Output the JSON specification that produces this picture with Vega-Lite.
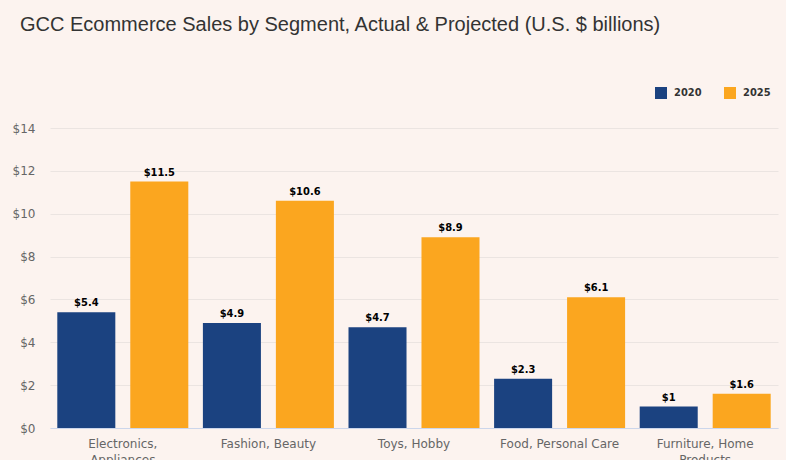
{
  "$schema": "https://vega.github.io/schema/vega-lite/v6.json",
  "width": 728,
  "height": 300,
  "autosize": {"type": "none"},
  "padding": {"left": 50, "top": 128, "right": 8, "bottom": 32},
  "background": "#fcf3ef",
  "title": {
    "text": "GCC Ecommerce Sales by Segment, Actual & Projected (U.S. $ billions)",
    "anchor": "start",
    "frame": "group",
    "dx": -30,
    "offset": 52,
    "font": "Liberation Sans",
    "fontSize": 20,
    "fontWeight": "normal",
    "color": "#333333"
  },
  "data": {
    "values": [
      {"category": "Electronics, Appliances", "year": "2020", "value": 5.4},
      {"category": "Electronics, Appliances", "year": "2025", "value": 11.5},
      {"category": "Fashion, Beauty", "year": "2020", "value": 4.9},
      {"category": "Fashion, Beauty", "year": "2025", "value": 10.6},
      {"category": "Toys, Hobby", "year": "2020", "value": 4.7},
      {"category": "Toys, Hobby", "year": "2025", "value": 8.9},
      {"category": "Food, Personal Care", "year": "2020", "value": 2.3},
      {"category": "Food, Personal Care", "year": "2025", "value": 6.1},
      {"category": "Furniture, Home Products", "year": "2020", "value": 1},
      {"category": "Furniture, Home Products", "year": "2025", "value": 1.6}
    ]
  },
  "encoding": {
    "x": {
      "field": "category",
      "type": "nominal",
      "sort": ["Electronics, Appliances", "Fashion, Beauty", "Toys, Hobby", "Food, Personal Care", "Furniture, Home Products"],
      "scale": {"paddingInner": 0, "paddingOuter": 0},
      "axis": {
        "title": null,
        "labelAngle": 0,
        "ticks": false,
        "domainColor": "#ccd6eb",
        "labelColor": "#666666",
        "labelFont": "DejaVu Sans",
        "labelFontSize": 12,
        "labelPadding": 10,
        "labelLineHeight": 16,
        "labelExpr": "datum.value == 'Electronics, Appliances' ? ['Electronics,', 'Appliances'] : datum.value == 'Furniture, Home Products' ? ['Furniture, Home', 'Products'] : datum.value"
      }
    },
    "xOffset": {
      "field": "year",
      "type": "nominal",
      "scale": {"paddingInner": 0.205, "paddingOuter": 0.1}
    },
    "y": {
      "field": "value",
      "type": "quantitative",
      "scale": {"domain": [0, 14]},
      "axis": {
        "title": null,
        "values": [0, 2, 4, 6, 8, 10, 12, 14],
        "format": "$~g",
        "domain": false,
        "ticks": false,
        "gridColor": "#ebe4e1",
        "labelColor": "#666666",
        "labelFont": "DejaVu Sans",
        "labelFontSize": 12,
        "labelPadding": 15
      }
    }
  },
  "layer": [
    {
      "mark": {"type": "bar"},
      "encoding": {
        "color": {
          "field": "year",
          "type": "nominal",
          "scale": {"domain": ["2020", "2025"], "range": ["#1b4280", "#fba61f"]},
          "legend": {
            "title": null,
            "orient": "none",
            "direction": "horizontal",
            "legendX": 605,
            "legendY": -41,
            "symbolType": "square",
            "symbolSize": 144,
            "symbolStrokeWidth": 0,
            "symbolOpacity": 1,
            "labelFont": "DejaVu Sans Condensed",
            "labelFontWeight": "bold",
            "labelFontSize": 11,
            "labelColor": "#333333",
            "labelOffset": 7,
            "columnPadding": 22
          }
        }
      }
    },
    {
      "mark": {
        "type": "text",
        "baseline": "bottom",
        "dy": -4,
        "font": "DejaVu Sans Condensed",
        "fontWeight": "bold",
        "fontSize": 11,
        "color": "#000000"
      },
      "encoding": {
        "text": {"field": "value", "type": "quantitative", "format": "$.3~g"}
      }
    }
  ],
  "config": {
    "view": {"stroke": null}
  }
}
